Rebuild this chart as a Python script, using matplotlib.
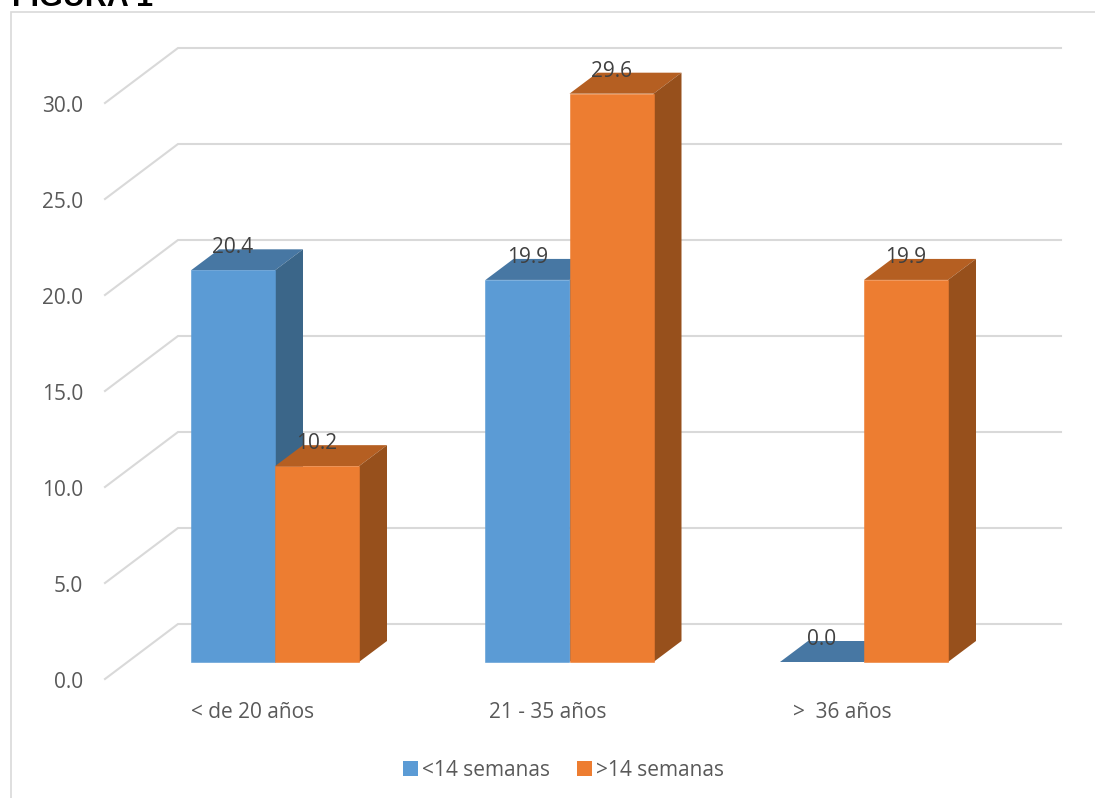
import numpy as np
import matplotlib
matplotlib.use('Agg')
import matplotlib.pyplot as plt
from matplotlib.patches import Patch

categories = ['< de 20 años', '21 - 35 años', '>  36 años']
menos_14 = [20.4, 19.9, 0.0]
mas_14 = [10.2, 29.6, 19.9]
series_names = ['<14 semanas', '>14 semanas']
y_ticks = [0, 5, 10, 15, 20, 25, 30]

W, H = 1095, 798
px_x = 294.5     # pixels per category
px_y = 19.2      # pixels per value unit
x0, y0 = 275, 662  # pixel of category 0 / value 0

bar_w = 84 / px_x
dep_x = 28 / px_x   # depth of the bars
dep_y = 21 / px_y

plt.rcParams['font.family'] = ['Open Sans', 'DejaVu Sans']
fig = plt.figure(figsize=(W / 100, H / 100), dpi=100)
ax = fig.add_axes([0, 0, 1, 1])
ax.set_xlim(-x0 / px_x, (W - x0) / px_x)
ax.set_ylim(-(H - y0) / px_y, y0 / px_y)
ax.axis('off')

grid_c = '#D9D9D9'
# walls of the 3d box
wall_left = -170 / px_x
wall_back = -97 / px_x
wall_right = 786 / px_x
floor_front = -17 / px_y
floor_back = 38 / px_y
for t in y_ticks:
    ax.plot([wall_left, wall_back, wall_right], [t + floor_front, t + floor_back, t + floor_back],
            color=grid_c, lw=1.5, solid_joinstyle='miter', zorder=1)
    ax.text(-192 / px_x, t + floor_front - 1 / px_y, f'{t:.1f}', ha='right', va='center_baseline',
            fontsize=15, color='#595959')


def draw_bar(xl, val, c_front, c_top, c_side):
    xr = xl + bar_w
    ax.fill([xl, xr, xr + dep_x, xl + dep_x], [val, val, val + dep_y, val + dep_y], color=c_top, lw=0, zorder=3)
    ax.fill([xr, xr + dep_x, xr + dep_x, xr], [0, dep_y, val + dep_y, val], color=c_side, lw=0, zorder=3)
    if val > 0:
        ax.bar(xl, val, width=bar_w, align='edge', color=c_front, edgecolor=c_front, lw=0.4, zorder=3)
    ax.text(xl + bar_w / 2, val + 25 / px_y, f'{val:.1f}', ha='center', va='center_baseline',
            fontsize=15, color='#404040', zorder=5)


for i in range(len(categories)):
    draw_bar(i - bar_w, menos_14[i], '#5B9BD5', '#4777A3', '#3B6689')
    draw_bar(i, mas_14[i], '#ED7D31', '#B55F22', '#97501C')
    ax.text(i - 22 / px_x, -48 / px_y, categories[i], ha='center', va='center_baseline',
            fontsize=15, color='#595959')

handles = [Patch(color='#5B9BD5', lw=0), Patch(color='#ED7D31', lw=0)]
leg = ax.legend(handles, series_names, loc='center', bbox_to_anchor=(563.5 / W, 1 - 770 / H), ncol=2,
                frameon=False, fontsize=15, labelcolor='#595959', handlelength=0.7, handleheight=0.7,
                handletextpad=0.2, columnspacing=1.3, borderpad=0)

# chart frame and heading, both run off the picture
ax.plot([11 / W, 11 / W, 1], [0, 1 - 12 / H, 1 - 12 / H], transform=ax.transAxes, color=grid_c, lw=1.2,
        solid_joinstyle='miter', zorder=0)
ax.text(12 / W, 1 - 6 / H, 'FIGURA 1', transform=ax.transAxes, ha='left', va='baseline', fontsize=22,
        fontweight='bold', family='Liberation Sans', color='#000000')

fig.savefig('out.png', dpi=100)
plt.close(fig)
